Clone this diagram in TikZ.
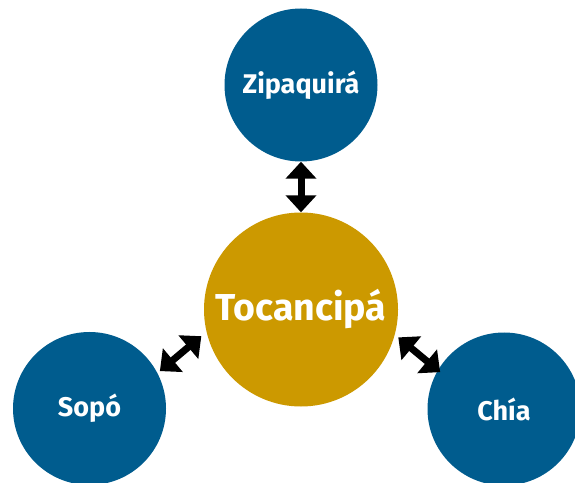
\documentclass[tikz,border=0pt]{standalone}
\usepackage{fontspec}
\setmainfont{Fira Sans}
\usetikzlibrary{arrows.meta}
\definecolor{townblue}{HTML}{005C8E}
\definecolor{hubgold}{HTML}{CC9900}

\begin{document}
\begin{tikzpicture}[x=1pt,y=1pt,
    town/.style={circle,fill=townblue,text=white,inner sep=0pt,
      minimum size=153pt,font=\fontsize{27}{32}\selectfont\bfseries},
    hub/.style={circle,fill=hubgold,text=white,inner sep=0pt,
      minimum size=194pt,font=\fontsize{37.5}{44}\selectfont\bfseries},
    link/.style={line width=7pt,{Triangle[width=30pt,length=17pt]}-{Triangle[width=30pt,length=17pt]}}]
      \useasboundingbox (0,0) rectangle (575,482) ;
      \node[hub] (toc) at (301,172.5) {Tocancipá} ;
      \node[town] (zip) at (301,397) {Zipaquirá} ;
      \node[town] (sopo) at (89.5,73.5) {Sopó} ;
      \node[town] (chia) at (504,73) {Chía} ;
      % double arrows
      \draw[link] (zip.south) -- (toc.north) ;
      \draw[link] ([shift={(28:3)}]sopo.28) -- ([shift={(195:6)}]toc.195) ;
      \draw[link] ([shift={(150:-3)}]chia.150) -- ([shift={(-16:4)}]toc.-16) ;
    \end{tikzpicture}
\end{document}
